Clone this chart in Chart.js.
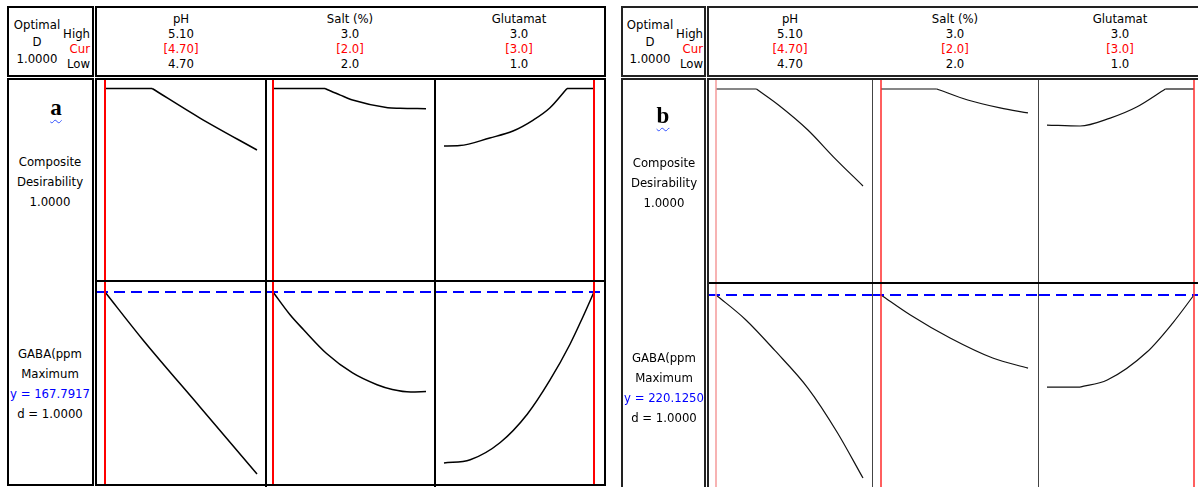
<!DOCTYPE html>
<html>
<head>
<meta charset="utf-8">
<script src="https://cdn.jsdelivr.net/npm/chart.js"></script>
<style>
body { margin:0; width:1198px; height:487px; overflow:hidden; background:#fff; position:relative;
  font-family:"DejaVu Sans Condensed", "Liberation Sans", Arial, sans-serif; font-size:13px; color:#000; }
.box { position:absolute; box-sizing:border-box; }
.txt { position:absolute; white-space:nowrap; }
.cell { position:absolute; }
.tag { font-family:"Liberation Serif", "Times New Roman", serif; font-weight:bold; font-size:23px;
  text-decoration:underline wavy #3050ff; text-decoration-thickness:1px; text-underline-offset:4px; }
</style>
</head>
<body>
<script>
// factor headers
var factors = ['pH', 'Salt (%)', 'Glutamat'];
var highText = ['5.10', '3.0', '3.0'];
var curText = ['[4.70]', '[2.0]', '[3.0]'];
var lowText = ['4.70', '2.0', '1.0'];
var lowVals = [4.70, 2.0, 1.0];
var highVals = [5.10, 3.0, 3.0];
var curVals = [4.70, 2.0, 3.0];

// panel a : composite desirability vs factor
var aDesPH = [[4.70,1.0],[4.824,1.0],[4.95,0.838],[5.10,0.663]];
var aDesSalt = [[2.0,1.0],[2.34,1.0],[2.44,0.964],[2.52,0.937],[2.75,0.895],[2.83,0.892],[3.0,0.889]];
var aDesGlu = [[1.0,0.685],[1.21,0.687],[1.61,0.729],[1.92,0.767],[2.19,0.827],[2.41,0.893],[2.64,1.0],[3.0,1.0]];
// panel a : GABA (ppm) vs factor
var aGabaPH = [[4.70,167.79],[4.80,148.6],[4.95,121.8],[5.10,95.0]];
var aGabaSalt = [[2.0,167.79],[2.11,158.8],[2.20,152.7],[2.35,143.2],[2.52,135.4],[2.68,130.7],[2.78,128.8],[2.90,127.8],[3.0,128.0]];
var aGabaGlu = [[1.0,99.4],[1.35,100.7],[1.75,107.6],[2.11,118.9],[2.41,132.4],[2.68,146.9],[2.85,157.7],[3.0,167.79]];
var aGabaY = 167.7917;

// panel b
var bDesPH = [[4.70,1.0],[4.81,1.0],[4.87,0.913],[4.95,0.777],[5.02,0.630],[5.10,0.473]];
var bDesSalt = [[2.0,1.0],[2.38,1.0],[2.59,0.940],[2.81,0.897],[3.0,0.870]];
var bDesGlu = [[1.0,0.804],[1.45,0.799],[1.86,0.842],[2.22,0.902],[2.61,1.0],[3.0,1.0]];
var bGabaPH = [[4.70,220.13],[4.78,207.9],[4.86,192.4],[4.95,173.6],[5.03,151.4],[5.10,128.6]];
var bGabaSalt = [[2.0,220.13],[2.20,210.1],[2.47,198.6],[2.76,188.6],[3.0,183.6]];
var bGabaGlu = [[1.0,174.1],[1.45,174.1],[1.82,177.6],[2.36,191.6],[2.71,206.1],[3.0,220.13]];
var bGabaY = 220.1250;

var panels = [
  { tag:'a', gabaY:aGabaY, des:[aDesPH,aDesSalt,aDesGlu], gaba:[aGabaPH,aGabaSalt,aGabaGlu],
    lbl:[7,94], plot:[95,606], bodyH:408, frame:'2px solid #000', inner:'#000', innerW:2,
    cols:[[97,265],[267,434],[436,604]], rows:[[80,280],[282,484]], colLines:[265,434], rowLine:280,
    px:[[105,257],[273,426],[444,594]], desPx:[88.5,271], gabaPx:292, perPx:0.4,
    red:['#ff0000','#ff0000','#ff0000'], redW:2, curveW:1.5, curveC:'#000',
    optX:37, hlX:90, hdrX:[181,350,519], tagX:56, textX:50, tagBase:115, compTop:151.5, gabaTop:343.5 },
  { tag:'b', gabaY:bGabaY, des:[bDesPH,bDesSalt,bDesGlu], gaba:[bGabaPH,bGabaSalt,bGabaGlu],
    lbl:[621,706], plot:[707,1300], bodyH:430, frame:'2px solid #222', inner:'#444', innerW:1,
    cols:[[709,872],[873,1038],[1039,1210]], rows:[[80,282],[284,492]], colLines:[872,1038], rowLine:282,
    px:[[716,863],[881,1028],[1047,1194]], desPx:[89,273], gabaPx:295, perPx:0.5,
    red:['#f59a9a','#ff2a2a','#ff2a2a'], redW:1.5, curveW:1.2, curveC:'#111',
    optX:650, hlX:703, hdrX:[790,955,1120], tagX:663, textX:664, tagBase:123, compTop:152.5, gabaTop:347.5 }
];

function box(x, y, w, h, border, bg) {
  var d = document.createElement('div');
  d.className = 'box';
  d.style.left = x + 'px'; d.style.top = y + 'px';
  d.style.width = w + 'px'; d.style.height = h + 'px';
  if (border) d.style.border = border;
  if (bg) d.style.background = bg;
  document.body.appendChild(d);
}

function text(lines, x, top, lh, align) {
  var d = document.createElement('div');
  d.className = 'txt';
  d.style.top = top + 'px';
  d.style.lineHeight = lh + 'px';
  d.style.textAlign = align;
  if (align == 'right') { d.style.left = (x - 120) + 'px'; d.style.width = '120px'; }
  else { d.style.left = (x - 100) + 'px'; d.style.width = '200px'; }
  d.innerHTML = lines.map(function(l) {
    return '<div style="color:' + (l[1] || '#000') + '">' + l[0] + '</div>';
  }).join('');
  document.body.appendChild(d);
}

function pairs(arr) {
  return arr.map(function(p) { return {x:p[0], y:p[1]}; });
}

// break a curve where it leaves / joins a flat run so the kink stays sharp
function pieces(arr) {
  var s = 0, e = arr.length - 1;
  while (s < e && arr[s + 1][1] == arr[s][1]) s++;
  while (e > s && arr[e - 1][1] == arr[e][1]) e--;
  var out = [];
  if (s > 0) out.push(arr.slice(0, s + 1));
  out.push(arr.slice(s, e + 1));
  if (e < arr.length - 1) out.push(arr.slice(e));
  return out;
}

function curveSets(arr, p) {
  return pieces(arr).map(function(part) {
    return { data: pairs(part), borderColor: p.curveC, borderWidth: p.curveW, cubicInterpolationMode: 'monotone' };
  });
}

function cellChart(x0, x1, y0, y1, xr, yr, datasets) {
  var wrap = document.createElement('div');
  wrap.className = 'cell';
  wrap.style.left = x0 + 'px'; wrap.style.top = y0 + 'px';
  wrap.style.width = (x1 - x0) + 'px'; wrap.style.height = (y1 - y0) + 'px';
  var c = document.createElement('canvas');
  wrap.appendChild(c);
  document.body.appendChild(wrap);
  new Chart(c, {
    type: 'line',
    data: { datasets: datasets },
    options: {
      responsive: true, maintainAspectRatio: false, animation: false, events: [],
      layout: { padding: 0 },
      plugins: { legend: { display: false }, tooltip: { enabled: false } },
      elements: { point: { radius: 0 } },
      scales: {
        x: { type: 'linear', display: false, min: xr[0], max: xr[1] },
        y: { type: 'linear', display: false, min: yr[0], max: yr[1] }
      }
    }
  });
}

panels.forEach(function(p) {
  // frames
  box(p.lbl[0], 6, p.lbl[1] - p.lbl[0], 71, p.frame);
  box(p.plot[0], 6, p.plot[1] - p.plot[0], 71, p.frame);
  box(p.lbl[0], 78, p.lbl[1] - p.lbl[0], p.bodyH, p.frame);
  box(p.plot[0], 78, p.plot[1] - p.plot[0], p.bodyH, p.frame);

  // header texts
  text([['Optimal'], ['D'], ['1.0000']], p.optX, 16, 17, 'center');
  text([['High'], ['Cur', '#ff0000'], ['Low']], p.hlX, 26, 15, 'right');
  for (var i = 0; i < 3; i++) {
    text([[factors[i]], [highText[i]], [curText[i], '#ff0000'], [lowText[i]]], p.hdrX[i], 11, 15, 'center');
  }

  // row labels
  text([['<span class="tag">' + p.tag + '</span>']], p.tagX, p.tagBase - 21, 27, 'center');
  text([['Composite'], ['Desirability'], ['1.0000']], p.textX, p.compTop, 20, 'center');
  text([['GABA(ppm'], ['Maximum'], ['y = ' + p.gabaY.toFixed(4), '#0000ff'], ['d = 1.0000']], p.textX, p.gabaTop, 20, 'center');

  // cells
  for (var c = 0; c < 3; c++) {
    var col = p.cols[c];
    var upp = (highVals[c] - lowVals[c]) / (p.px[c][1] - p.px[c][0]);
    var xr = [lowVals[c] - (p.px[c][0] - col[0]) * upp, highVals[c] + (col[1] - p.px[c][1]) * upp];

    // desirability row
    var r = p.rows[0];
    var dpp = 1 / (p.desPx[1] - p.desPx[0]);
    var yr = [-(r[1] - p.desPx[1]) * dpp, 1 + (p.desPx[0] - r[0]) * dpp];
    cellChart(col[0], col[1], r[0], r[1], xr, yr, [
      { data: [{x:curVals[c], y:yr[0]}, {x:curVals[c], y:yr[1]}], borderColor: p.red[c], borderWidth: p.redW }
    ].concat(curveSets(p.des[c], p)));

    // response row
    r = p.rows[1];
    var gr = [p.gabaY - (r[1] - p.gabaPx) * p.perPx, p.gabaY + (p.gabaPx - r[0]) * p.perPx];
    cellChart(col[0], col[1], r[0], r[1], xr, gr, [
      { data: [{x:curVals[c], y:gr[0]}, {x:curVals[c], y:gr[1]}], borderColor: p.red[c], borderWidth: p.redW },
      { data: [{x:xr[0], y:p.gabaY}, {x:xr[1], y:p.gabaY}], borderColor: '#0000ff', borderWidth: 2, borderDash: [11, 6] }
    ].concat(curveSets(p.gaba[c], p)));
  }

  // dividers
  p.colLines.forEach(function(x) { box(x, 80, p.innerW, 420, null, p.inner); });
  box(p.plot[0] + 2, p.rowLine, p.plot[1] - p.plot[0] - 4, 2, null, '#000');
});
</script>
</body>
</html>
